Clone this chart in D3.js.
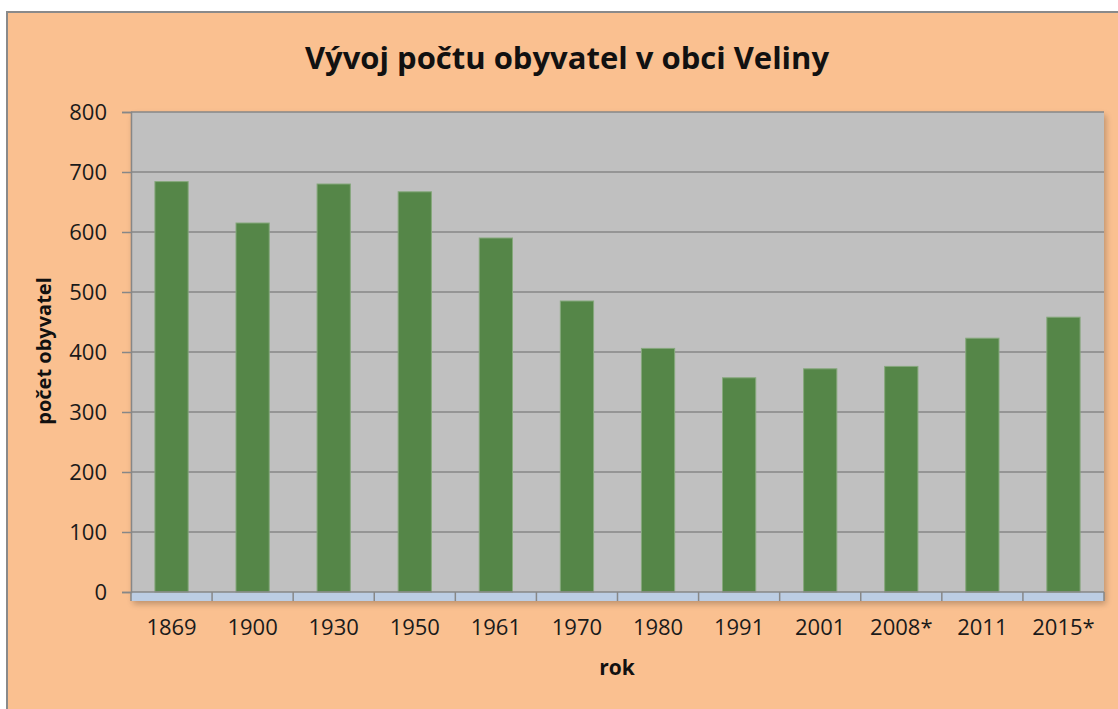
<!DOCTYPE html>
<html>
<head>
<meta charset="utf-8">
<script src="https://cdn.jsdelivr.net/npm/d3@7"></script>
<style>
  html, body { margin: 0; padding: 0; background: #fff; overflow: hidden; }
  svg { display: block; font-family: "Open Sans", Lato, sans-serif; }
</style>
</head>
<body>
<script>
// data
const years = ["1869", "1900", "1930", "1950", "1961", "1970", "1980", "1991", "2001", "2008*", "2011", "2015*"];
const population = [684, 615, 680, 667, 590, 485, 406, 357, 372, 376, 423, 458];
const yTicks = [0, 100, 200, 300, 400, 500, 600, 700, 800];

const width = 1118, height = 709;
const plot = { left: 131, top: 112, right: 1104, bottom: 592 };

const svg = d3.select("body").append("svg")
  .attr("width", width)
  .attr("height", height);

const defs = svg.append("defs");
const shadow = defs.append("filter").attr("id", "shadow")
  .attr("x", "-5%").attr("y", "-5%").attr("width", "110%").attr("height", "115%");
shadow.append("feGaussianBlur").attr("in", "SourceAlpha").attr("stdDeviation", 3);
shadow.append("feOffset").attr("dx", 2).attr("dy", 3).attr("result", "blur");
shadow.append("feComponentTransfer").append("feFuncA").attr("type", "linear").attr("slope", 0.25);
const merge = shadow.append("feMerge");
merge.append("feMergeNode");
merge.append("feMergeNode").attr("in", "SourceGraphic");

// chart background + border
svg.append("rect")
  .attr("x", 7).attr("y", 12)
  .attr("width", 1140).attr("height", 720)
  .attr("fill", "#fac090")
  .attr("stroke", "#8a8a8a")
  .attr("stroke-width", 2);

const x = d3.scaleBand()
  .domain(years)
  .range([plot.left, plot.right])
  .paddingInner(0.59)
  .paddingOuter(0.295);

const y = d3.scaleLinear()
  .domain([0, 800])
  .range([plot.bottom, plot.top]);

// plot area
svg.append("rect")
  .attr("x", plot.left).attr("y", plot.top)
  .attr("width", plot.right - plot.left)
  .attr("height", plot.bottom - plot.top + 9)
  .attr("fill", "#c0c0c0")
  .attr("filter", "url(#shadow)");

// light strip under the category axis
svg.append("rect")
  .attr("x", plot.left).attr("y", plot.bottom)
  .attr("width", plot.right - plot.left).attr("height", 9)
  .attr("fill", "#bccde3");

// gridlines
svg.append("g")
  .selectAll("line")
  .data(yTicks.filter(d => d > 0))
  .join("line")
  .attr("x1", plot.left).attr("x2", plot.right)
  .attr("y1", d => y(d)).attr("y2", d => y(d))
  .attr("stroke", "#878787")
  .attr("stroke-width", 1.5);

// bars
svg.append("g")
  .selectAll("rect")
  .data(years.map((yr, i) => ({ yr, v: population[i] })))
  .join("rect")
  .attr("x", d => x(d.yr))
  .attr("y", d => y(d.v))
  .attr("width", x.bandwidth())
  .attr("height", d => y(0) - y(d.v))
  .attr("fill", "#558648")
  .attr("stroke", "#86a87c")
  .attr("stroke-width", 1);

// y axis
const yAxis = svg.append("g")
  .attr("transform", `translate(${plot.left},0)`)
  .call(d3.axisLeft(y).tickValues(yTicks).tickSize(9).tickPadding(15));
yAxis.select(".domain").attr("stroke", "#878787").attr("stroke-width", 1.5);
yAxis.selectAll(".tick line").attr("stroke", "#878787").attr("stroke-width", 1.5);
yAxis.selectAll(".tick text")
  .attr("fill", "#1a1a1a")
  .style("font-size", "22px")
  .style("font-family", "'Open Sans', sans-serif");

// x axis: ticks on category boundaries
const boundaries = d3.range(years.length + 1).map(i => plot.left + i * (plot.right - plot.left) / years.length);
svg.append("line")
  .attr("x1", plot.left).attr("x2", plot.right)
  .attr("y1", plot.bottom).attr("y2", plot.bottom)
  .attr("stroke", "#878787").attr("stroke-width", 1.5);
svg.append("g")
  .selectAll("line")
  .data(boundaries)
  .join("line")
  .attr("x1", d => d).attr("x2", d => d)
  .attr("y1", plot.bottom).attr("y2", plot.bottom + 9)
  .attr("stroke", "#878787").attr("stroke-width", 1.5);
svg.append("g")
  .selectAll("text")
  .data(years)
  .join("text")
  .attr("x", d => x(d) + x.bandwidth() / 2)
  .attr("y", 635)
  .attr("text-anchor", "middle")
  .attr("fill", "#1a1a1a")
  .style("font-size", "22px")
  .text(d => d);

// titles
svg.append("text")
  .attr("x", 567).attr("y", 69)
  .attr("text-anchor", "middle")
  .attr("font-weight", "bold")
  .attr("fill", "#111")
  .style("font-size", "31px")
  .text("Vývoj počtu obyvatel v obci Veliny");

svg.append("text")
  .attr("x", 617).attr("y", 675)
  .attr("text-anchor", "middle")
  .attr("font-weight", "bold")
  .attr("fill", "#111")
  .style("font-size", "21px")
  .text("rok");

svg.append("text")
  .attr("transform", "translate(51,351) rotate(-90)")
  .attr("text-anchor", "middle")
  .attr("font-weight", "bold")
  .attr("fill", "#111")
  .style("font-size", "20px")
  .text("počet obyvatel");
</script>
</body>
</html>
